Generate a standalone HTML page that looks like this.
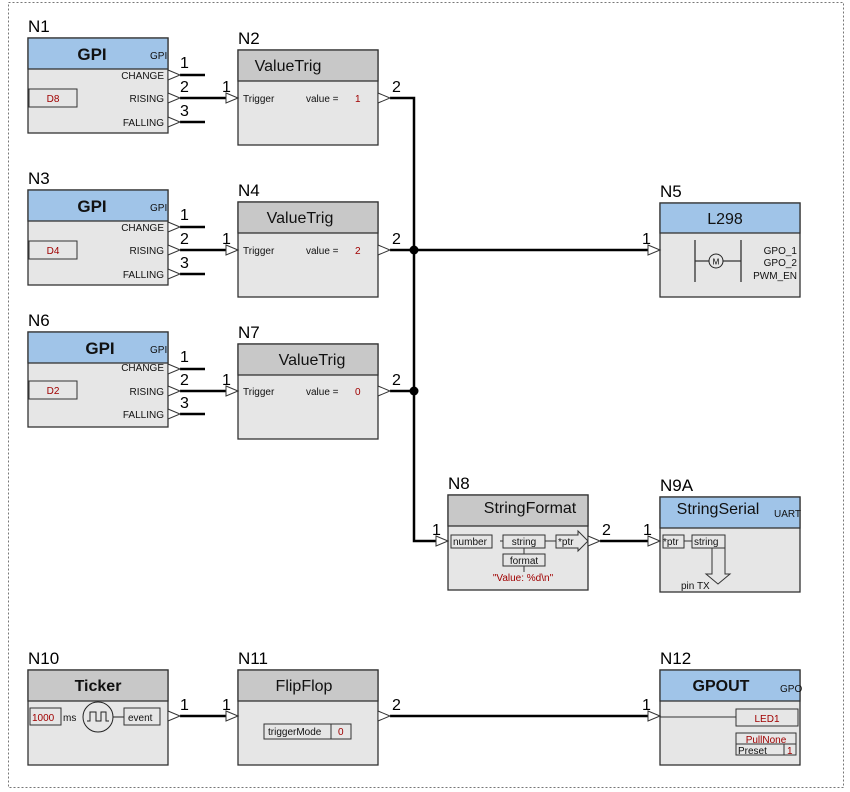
<!DOCTYPE html>
<html><head><meta charset="utf-8"><style>
html,body{margin:0;padding:0;background:#fff;}
svg{display:block;font-family:"Liberation Sans",sans-serif;}
.box{fill:#e6e6e6;stroke:#333;stroke-width:1.3}
.hb{fill:#a0c4e8;stroke:#333;stroke-width:1.3}
.hg{fill:#c8c8c8;stroke:#333;stroke-width:1.3}
.w{stroke:#000;stroke-width:2.5;fill:none}
.tri{fill:#fff;stroke:#333;stroke-width:1}
.nl{font-size:17px;fill:#000}
.t{font-size:17px;fill:#111;text-anchor:middle}
.s{font-size:10px;fill:#111}
.r{fill:#a00000}
.pn{font-size:16px;fill:#000}
.sm{fill:#e6e6e6;stroke:#333;stroke-width:1}
</style></head><body>
<svg width="850" height="792" viewBox="0 0 850 792">
<rect x="8.5" y="2.5" width="835" height="785" fill="none" stroke="#777" stroke-dasharray="2,2"/>

<!-- wires -->
<path class="w" d="M180 75H205M180 98H226M180 122H205"/>
<path class="w" d="M180 227H205M180 250H226M180 274H205"/>
<path class="w" d="M180 369H205M180 391H226M180 414H205"/>
<path class="w" d="M390 98H414V541H436M390 250H648M390 391H414"/>
<circle cx="414" cy="250" r="4.5"/><circle cx="414" cy="391" r="4.5"/>
<path class="w" d="M600 541H648M180 716H226M390 716H648"/>

<!-- GPI blocks -->
<g id="g1">
<rect class="box" x="28" y="38" width="140" height="95"/>
<rect class="hb" x="28" y="38" width="140" height="31"/>
<text class="t" x="92" y="60" style="font-weight:bold">GPI</text>
<text class="s" x="150" y="59">GPI</text>
<text class="s" x="164" y="79" text-anchor="end">CHANGE</text>
<text class="s" x="164" y="102" text-anchor="end">RISING</text>
<text class="s" x="164" y="126" text-anchor="end">FALLING</text>
<rect class="sm" x="29" y="89" width="48" height="18"/>
<text class="s r" x="53" y="102" text-anchor="middle">D8</text>
</g>
<polygon class="tri" points="168,70 180,75 168,80"/><polygon class="tri" points="168,93 180,98 168,103"/><polygon class="tri" points="168,117 180,122 168,127"/>
<text class="pn" x="180" y="68">1</text><text class="pn" x="180" y="92">2</text><text class="pn" x="180" y="116">3</text>
<text class="nl" x="28" y="32">N1</text>

<rect class="box" x="28" y="190" width="140" height="95"/>
<rect class="hb" x="28" y="190" width="140" height="31"/>
<text class="t" x="92" y="212" style="font-weight:bold">GPI</text>
<text class="s" x="150" y="211">GPI</text>
<text class="s" x="164" y="231" text-anchor="end">CHANGE</text>
<text class="s" x="164" y="254" text-anchor="end">RISING</text>
<text class="s" x="164" y="278" text-anchor="end">FALLING</text>
<rect class="sm" x="29" y="241" width="48" height="18"/>
<text class="s r" x="53" y="254" text-anchor="middle">D4</text>
<polygon class="tri" points="168,222 180,227 168,232"/><polygon class="tri" points="168,245 180,250 168,255"/><polygon class="tri" points="168,269 180,274 168,279"/>
<text class="pn" x="180" y="220">1</text><text class="pn" x="180" y="244">2</text><text class="pn" x="180" y="268">3</text>
<text class="nl" x="28" y="184">N3</text>

<rect class="box" x="28" y="332" width="140" height="95"/>
<rect class="hb" x="28" y="332" width="140" height="31"/>
<text class="t" x="100" y="354" style="font-weight:bold">GPI</text>
<text class="s" x="150" y="353">GPI</text>
<text class="s" x="164" y="371" text-anchor="end">CHANGE</text>
<text class="s" x="164" y="395" text-anchor="end">RISING</text>
<text class="s" x="164" y="418" text-anchor="end">FALLING</text>
<rect class="sm" x="29" y="381" width="48" height="18"/>
<text class="s r" x="53" y="394" text-anchor="middle">D2</text>
<polygon class="tri" points="168,364 180,369 168,374"/><polygon class="tri" points="168,386 180,391 168,396"/><polygon class="tri" points="168,409 180,414 168,419"/>
<text class="pn" x="180" y="362">1</text><text class="pn" x="180" y="385">2</text><text class="pn" x="180" y="408">3</text>
<text class="nl" x="28" y="326">N6</text>

<!-- ValueTrig -->
<rect class="box" x="238" y="50" width="140" height="95"/>
<rect class="hg" x="238" y="50" width="140" height="31"/>
<text class="t" x="288" y="71" style="font-size:16px">ValueTrig</text>
<text class="s" x="243" y="102">Trigger</text><text class="s" x="306" y="102">value =</text><text class="s r" x="355" y="102">1</text>
<polygon class="tri" points="226,93 238,98 226,103"/><polygon class="tri" points="378,93 390,98 378,103"/>
<text class="pn" x="222" y="92">1</text><text class="pn" x="392" y="92">2</text>
<text class="nl" x="238" y="44">N2</text>

<rect class="box" x="238" y="202" width="140" height="95"/>
<rect class="hg" x="238" y="202" width="140" height="31"/>
<text class="t" x="300" y="223" style="font-size:16px">ValueTrig</text>
<text class="s" x="243" y="254">Trigger</text><text class="s" x="306" y="254">value =</text><text class="s r" x="355" y="254">2</text>
<polygon class="tri" points="226,245 238,250 226,255"/><polygon class="tri" points="378,245 390,250 378,255"/>
<text class="pn" x="222" y="244">1</text><text class="pn" x="392" y="244">2</text>
<text class="nl" x="238" y="196">N4</text>

<rect class="box" x="238" y="344" width="140" height="95"/>
<rect class="hg" x="238" y="344" width="140" height="31"/>
<text class="t" x="312" y="365" style="font-size:16px">ValueTrig</text>
<text class="s" x="243" y="395">Trigger</text><text class="s" x="306" y="395">value =</text><text class="s r" x="355" y="395">0</text>
<polygon class="tri" points="226,386 238,391 226,396"/><polygon class="tri" points="378,386 390,391 378,396"/>
<text class="pn" x="222" y="385">1</text><text class="pn" x="392" y="385">2</text>
<text class="nl" x="238" y="338">N7</text>

<!-- L298 -->
<rect class="box" x="660" y="203" width="140" height="94"/>
<rect class="hb" x="660" y="203" width="140" height="30"/>
<text class="t" x="725" y="224" style="font-size:16px">L298</text>
<path d="M695 240V282M741 240V282M695 261H709M723 261H741" stroke="#333" stroke-width="1.3"/>
<circle cx="716" cy="261" r="7" fill="none" stroke="#222"/>
<text x="716" y="264.5" font-size="8" text-anchor="middle">M</text>
<text class="s" x="797" y="254" text-anchor="end">GPO_1</text>
<text class="s" x="797" y="266" text-anchor="end">GPO_2</text>
<text class="s" x="797" y="279" text-anchor="end">PWM_EN</text>
<polygon class="tri" points="648,245 660,250 648,255"/>
<text class="pn" x="642" y="244">1</text>
<text class="nl" x="660" y="197">N5</text>

<!-- StringFormat -->
<rect class="box" x="448" y="495" width="140" height="95"/>
<rect class="hg" x="448" y="495" width="140" height="31"/>
<text class="t" x="530" y="513" style="font-size:16px">StringFormat</text>
<path d="M500 541H503M545 541H556M524 548V554M524 566V572" stroke="#333"/>
<rect class="sm" x="451" y="535" width="41" height="13"/>
<text class="s" x="453" y="545">number</text>
<rect class="sm" x="503" y="535" width="42" height="13"/>
<text class="s" x="524" y="545" text-anchor="middle">string</text>
<rect class="sm" x="503" y="554" width="42" height="12"/>
<text class="s" x="524" y="564" text-anchor="middle">format</text>
<path d="M556 535H578V531L588 541L578 551V548H556Z" fill="#e6e6e6" stroke="#333"/>
<text class="s" x="558" y="545">*ptr</text>
<text class="s r" x="523" y="581" text-anchor="middle">"Value: %d\n"</text>
<polygon class="tri" points="436,536 448,541 436,546"/><polygon class="tri" points="588,536 600,541 588,546"/>
<text class="pn" x="432" y="535">1</text><text class="pn" x="602" y="535">2</text>
<text class="nl" x="448" y="489">N8</text>

<!-- StringSerial -->
<rect class="box" x="660" y="497" width="140" height="95"/>
<rect class="hb" x="660" y="497" width="140" height="31"/>
<text class="t" x="718" y="514" style="font-size:16px">StringSerial</text>
<text class="s" x="774" y="517">UART</text>
<rect class="sm" x="663" y="535" width="21" height="13"/>
<text class="s" x="663" y="545">*ptr</text>
<path d="M684 541H692" stroke="#333"/>
<rect class="sm" x="692" y="535" width="33" height="13"/>
<text class="s" x="694" y="545">string</text>
<path d="M712 548V574H706L718 584L730 574H725V548" fill="none" stroke="#333"/>
<text class="s" x="681" y="589">pin TX</text>
<polygon class="tri" points="648,536 660,541 648,546"/>
<text class="pn" x="643" y="535">1</text>
<text class="nl" x="660" y="491">N9A</text>

<!-- Ticker -->
<rect class="box" x="28" y="670" width="140" height="95"/>
<rect class="hg" x="28" y="670" width="140" height="31"/>
<text class="t" x="98" y="691" style="font-size:16px;font-weight:bold">Ticker</text>
<rect class="sm" x="30" y="708" width="31" height="17"/>
<text class="s r" x="32" y="721">1000</text>
<text class="s" x="63" y="721">ms</text>
<circle cx="98" cy="717" r="15" fill="none" stroke="#222"/>
<path d="M87 721H90V712H96V721H101V712H106V721H109M113 717H124" fill="none" stroke="#222"/>
<rect class="sm" x="124" y="708" width="36" height="17"/>
<text class="s" x="128" y="721">event</text>
<polygon class="tri" points="168,711 180,716 168,721"/>
<text class="pn" x="180" y="710">1</text>
<text class="nl" x="28" y="664">N10</text>

<!-- FlipFlop -->
<rect class="box" x="238" y="670" width="140" height="95"/>
<rect class="hg" x="238" y="670" width="140" height="31"/>
<text class="t" x="304" y="691" style="font-size:16px">FlipFlop</text>
<rect class="sm" x="264" y="724" width="67" height="15"/>
<rect class="sm" x="331" y="724" width="20" height="15"/>
<text class="s" x="268" y="735">triggerMode</text>
<text class="s r" x="338" y="735">0</text>
<polygon class="tri" points="226,711 238,716 226,721"/><polygon class="tri" points="378,711 390,716 378,721"/>
<text class="pn" x="222" y="710">1</text><text class="pn" x="392" y="710">2</text>
<text class="nl" x="238" y="664">N11</text>

<!-- GPOUT -->
<rect class="box" x="660" y="670" width="140" height="95"/>
<rect class="hb" x="660" y="670" width="140" height="31"/>
<text class="t" x="721" y="691" style="font-size:16px;font-weight:bold">GPOUT</text>
<text class="s" x="780" y="692">GPO</text>
<path d="M660 717H736" stroke="#333"/>
<rect class="sm" x="736" y="709" width="62" height="17"/>
<text class="s r" x="767" y="722" text-anchor="middle">LED1</text>
<rect class="sm" x="736" y="733" width="60" height="11"/>
<text class="s r" x="766" y="743" text-anchor="middle">PullNone</text>
<rect class="sm" x="736" y="744" width="48" height="11"/>
<rect class="sm" x="784" y="744" width="12" height="11"/>
<text class="s" x="738" y="754">Preset</text>
<text class="s r" x="787" y="754">1</text>
<polygon class="tri" points="648,711 660,716 648,721"/>
<text class="pn" x="642" y="710">1</text>
<text class="nl" x="660" y="664">N12</text>
</svg>
</body></html>
